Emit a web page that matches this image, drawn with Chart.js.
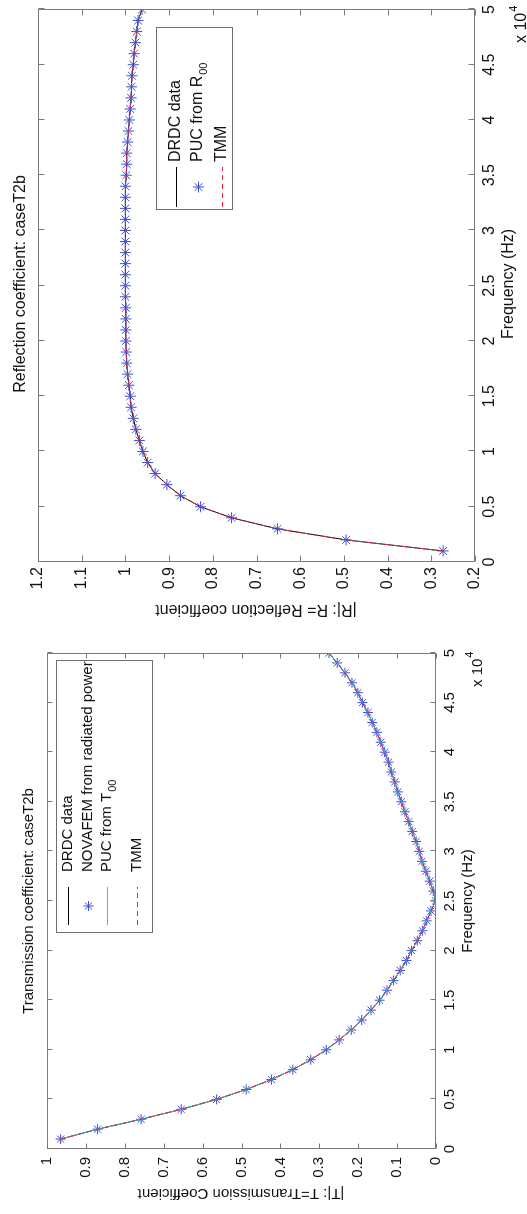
<!DOCTYPE html>
<html>
<head>
<meta charset="utf-8">
<script src="https://cdn.jsdelivr.net/npm/chart.js@4.4.1/dist/chart.umd.min.js"></script>
<style>
  html, body { margin:0; padding:0; width:527px; height:1214px; overflow:hidden; background:#fff; }
  /* the figure is laid out landscape and turned a quarter turn counter-clockwise */
  #fig { position:absolute; left:0; top:0; width:1214px; height:527px; transform-origin:0 0;
         transform:translate(0px,1214px) rotate(-90deg); background:#fff; }
  #fig canvas { position:absolute; top:0; }
  #cT { left:0; }
  #cR { left:590px; }
</style>
</head>
<body>
<div id="fig">
  <canvas id="cT" width="590" height="527"></canvas>
  <canvas id="cR" width="624" height="527"></canvas>
</div>
<script>
// frequencies (Hz) of the sampled points
const freqHz = [1000,2000,3000,4000,5000,6000,7000,8000,9000,10000,
  11000,12000,13000,14000,15000,16000,17000,18000,19000,20000,
  21000,22000,23000,24000,25000,26000,27000,28000,29000,30000,
  31000,32000,33000,34000,35000,36000,37000,38000,39000,40000,
  41000,42000,43000,44000,45000,46000,47000,48000,49000,50000];

// |T|
const transT = [0.965,0.870,0.758,0.655,0.564,0.488,0.423,0.368,0.322,0.282,
  0.249,0.218,0.191,0.167,0.145,0.126,0.109,0.092,0.076,0.063,
  0.048,0.035,0.024,0.013,0.001,0.007,0.016,0.026,0.036,0.043,
  0.051,0.061,0.070,0.080,0.089,0.098,0.106,0.115,0.122,0.132,
  0.142,0.152,0.164,0.175,0.189,0.201,0.216,0.234,0.254,0.275];

// |R|
const reflR = [0.273,0.495,0.652,0.757,0.828,0.874,0.905,0.932,0.949,0.960,
  0.968,0.976,0.982,0.987,0.989,0.992,0.995,0.997,0.998,0.999,
  0.999,0.999,0.999,1.000,1.000,1.000,1.000,1.000,1.000,1.000,
  1.000,1.000,1.000,1.000,0.998,0.997,0.997,0.995,0.993,0.991,
  0.989,0.987,0.986,0.985,0.982,0.980,0.977,0.974,0.971,0.962];

const transLabels = ['DRDC data','NOVAFEM from radiated power','PUC from T','TMM'];
const reflLabels = ['DRDC data','PUC from R','TMM'];

const FONT = '"Liberation Sans", Arial, Helvetica, sans-serif';
const BLUE = '#3d4fd6', CYAN = '#2ec4d0', RED = '#e8283a', TXT = '#111';

function pts(vals){ return freqHz.map((f,i)=>({x:f, y:vals[i]})); }

function lineDs(label, vals, color, dash, order){
  return { label, data: pts(vals), borderColor: color, backgroundColor: color, borderWidth: 1,
    borderDash: dash || [], pointRadius: 0, tension: 0, fill: false, order };
}
function markDs(label, vals, order, r){
  return { label, data: pts(vals), showLine: false, pointStyle: 'star', pointRadius: r, pointHoverRadius: r,
    borderColor: BLUE, backgroundColor: BLUE, pointBorderWidth: 1, order };
}

function star(ctx, x, y, r){
  ctx.beginPath();
  for(let k=0;k<4;k++){
    const a = k*Math.PI/4;
    ctx.moveTo(x - Math.cos(a)*r, y - Math.sin(a)*r);
    ctx.lineTo(x + Math.cos(a)*r, y + Math.sin(a)*r);
  }
  ctx.stroke();
}

// MATLAB-like box, inward ticks, titles and legend
const matlabFrame = {
  id: 'matlabFrame',
  afterDraw(chart, args, o){
    const ctx = chart.ctx, a = chart.chartArea, sx = chart.scales.x, sy = chart.scales.y;
    const fs = o.fontSize, L = o.tickLen;
    ctx.save();
    ctx.strokeStyle = '#7a7a7a'; ctx.lineWidth = 1;
    const l = Math.round(a.left)+0.5, r = Math.round(a.right)-0.5, t = Math.round(a.top)+0.5, b = Math.round(a.bottom)-0.5;
    ctx.beginPath();
    sx.ticks.forEach(tk=>{
      const px = Math.round(sx.getPixelForValue(tk.value))+0.5;
      ctx.moveTo(px,b); ctx.lineTo(px,b-L); ctx.moveTo(px,t); ctx.lineTo(px,t+L);
    });
    sy.ticks.forEach(tk=>{
      const py = Math.round(sy.getPixelForValue(tk.value))+0.5;
      ctx.moveTo(l,py); ctx.lineTo(l+L,py); ctx.moveTo(r,py); ctx.lineTo(r-L,py);
    });
    ctx.stroke();
    ctx.strokeRect(l, t, r-l, b-t);

    ctx.fillStyle = TXT;
    ctx.font = fs+'px '+FONT;
    ctx.textBaseline = 'alphabetic';
    ctx.textAlign = 'center';
    ctx.fillText(o.title.text, o.title.x, o.title.y);
    ctx.fillText(o.xlabel.text, o.xlabel.x, o.xlabel.y);
    // exponent of the frequency axis
    ctx.textAlign = 'left';
    ctx.fillText('x 10', o.expo.x, o.expo.y);
    const ew = ctx.measureText('x 10').width;
    ctx.font = Math.round(fs*0.7)+'px '+FONT;
    ctx.fillText('4', o.expo.x+ew+1, o.expo.y-9);
    // y label
    ctx.font = fs+'px '+FONT;
    ctx.save();
    ctx.translate(o.ylabel.x, o.ylabel.y); ctx.rotate(-Math.PI/2);
    ctx.textAlign = 'center'; ctx.textBaseline = 'middle';
    ctx.fillText(o.ylabel.text, 0, 0);
    ctx.restore();

    // legend
    const lg = o.legend;
    ctx.fillStyle = '#fff';
    ctx.fillRect(lg.box[0], lg.box[1], lg.box[2], lg.box[3]);
    ctx.strokeStyle = '#6f6f6f';
    ctx.strokeRect(lg.box[0]+0.5, lg.box[1]+0.5, lg.box[2], lg.box[3]);
    lg.rows.forEach((row, i)=>{
      const ds = chart.data.datasets[i];
      const yy = row.y + 0.5;
      ctx.strokeStyle = ds.borderColor; ctx.lineWidth = 1;
      if(ds.showLine === false){
        star(ctx, (lg.lineX[0]+lg.lineX[1])/2, yy, ds.pointRadius);
      } else {
        ctx.setLineDash(ds.borderDash || []);
        ctx.beginPath(); ctx.moveTo(lg.lineX[0], yy); ctx.lineTo(lg.lineX[1], yy); ctx.stroke();
        ctx.setLineDash([]);
      }
      ctx.fillStyle = TXT; ctx.textAlign = 'left'; ctx.textBaseline = 'middle';
      ctx.font = fs+'px '+FONT;
      ctx.fillText(ds.label, lg.textX, row.y);
      if(row.sub){
        const w = ctx.measureText(ds.label).width;
        ctx.font = Math.round(fs*0.7)+'px '+FONT;
        ctx.fillText(row.sub, lg.textX + w + 1, row.y + 6);
      }
    });
    ctx.restore();
  }
};

function axes(yMin, yMax, fs, yPad, yWidth, xHeight){
  const tickFont = { family: FONT, size: fs };
  return {
    x: { type: 'linear', min: 0, max: 50000,
      grid: { display: false, drawTicks: false }, border: { display: false },
      ticks: { stepSize: 5000, autoSkip: false, maxRotation: 0, padding: 5, color: TXT, font: tickFont,
        callback: v => String(v/10000) },
      afterFit: s => { s.height = xHeight; } },
    y: { type: 'linear', min: yMin, max: yMax,
      grid: { display: false, drawTicks: false }, border: { display: false },
      ticks: { stepSize: 0.1, autoSkip: false, padding: yPad, color: TXT, font: tickFont,
        callback: v => String(Math.round(v*10)/10) },
      afterFit: s => { s.width = yWidth; } }
  };
}

// left panel: transmission
new Chart(document.getElementById('cT'), {
  type: 'line',
  data: { datasets: [
    lineDs(transLabels[0], transT, '#000', null, 4),
    markDs(transLabels[1], transT, 3, 5),
    lineDs(transLabels[2], transT, CYAN, null, 2),
    lineDs(transLabels[3], transT, RED, [5,4], 1)
  ] },
  options: {
    responsive: false, animation: false, events: [],
    layout: { padding: { top: 47, right: 29, bottom: 0, left: 0 } },
    scales: axes(0, 1, 15, 8, 65, 91),
    plugins: {
      legend: { display: false }, title: { display: false }, tooltip: { enabled: false },
      matlabFrame: {
        fontSize: 15, tickLen: 5,
        title: { text: 'Transmission coefficient: caseT2b', x: 313, y: 33 },
        xlabel: { text: 'Frequency (Hz)', x: 313, y: 472 },
        ylabel: { text: '|T|: T=Transmission Coefficient', x: 21, y: 241 },
        expo: { x: 527, y: 482 },
        legend: { box: [281, 56, 272, 96], lineX: [289, 327], textX: 342,
          rows: [{ y: 68 }, { y: 88 }, { y: 107, sub: '00' }, { y: 137 }] }
      }
    }
  },
  plugins: [matlabFrame]
});

// right panel: reflection
new Chart(document.getElementById('cR'), {
  type: 'line',
  data: { datasets: [
    lineDs(reflLabels[0], reflR, '#000', null, 3),
    markDs(reflLabels[1], reflR, 2, 5.5),
    lineDs(reflLabels[2], reflR, RED, [5,4], 1)
  ] },
  options: {
    responsive: false, animation: false, events: [],
    layout: { padding: { top: 38, right: 5, bottom: 0, left: 0 } },
    scales: axes(0.2, 1.2, 16, 5, 62, 52),
    plugins: {
      legend: { display: false }, title: { display: false }, tooltip: { enabled: false },
      matlabFrame: {
        fontSize: 16, tickLen: 6,
        title: { text: 'Reflection coefficient: caseT2b', x: 340, y: 25 },
        xlabel: { text: 'Frequency (Hz)', x: 340, y: 513 },
        ylabel: { text: '|R|: R= Reflection coefficient', x: 15, y: 256 },
        expo: { x: 581, y: 526 },
        legend: { box: [414, 156, 182, 76], lineX: [417, 457], textX: 462,
          rows: [{ y: 176 }, { y: 198, sub: '00' }, { y: 222 }] }
      }
    }
  },
  plugins: [matlabFrame]
});
</script>
</body>
</html>
